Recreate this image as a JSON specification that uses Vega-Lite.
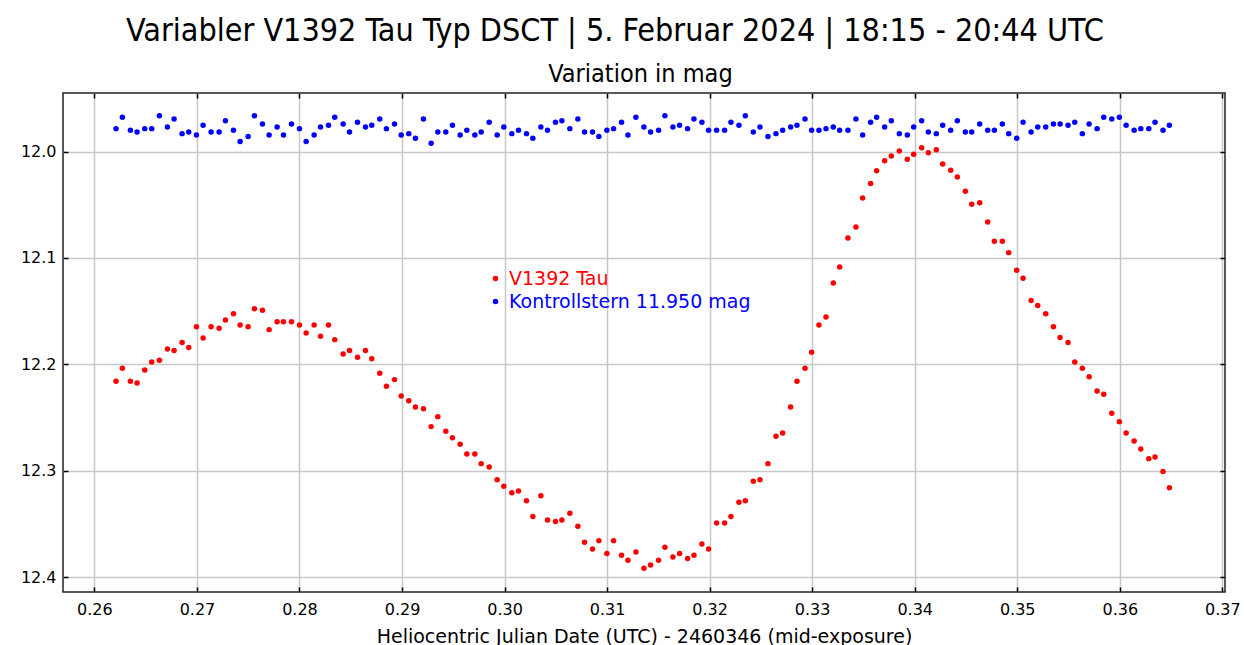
{
"$schema": "https://vega.github.io/schema/vega-lite/v6.json",
"width": 1162, "height": 499,
"autosize": {"type": "none"},
"padding": {"left": 63, "top": 93, "right": 19, "bottom": 53},
"background": "white",
"title": {"text": "Variabler V1392 Tau Typ DSCT | 5. Februar 2024 | 18:15 - 20:44 UTC", "font": "DejaVu Sans Condensed, sans-serif", "fontSize": 32, "fontWeight": "normal", "color": "#000000", "anchor": "middle", "dx": -29, "offset": 13},
"data": {"values": [
{"t":0.26211,"a":12.2160,"b":11.9784},{"t":0.26273,"a":12.2038,"b":11.9677},{"t":0.26351,"a":12.2160,"b":11.9800},{"t":0.26416,"a":12.2176,"b":11.9815},{"t":0.26491,"a":12.2053,"b":11.9784},
{"t":0.26559,"a":12.1978,"b":11.9784},{"t":0.26634,"a":12.1962,"b":11.9662},{"t":0.26712,"a":12.1856,"b":11.9768},{"t":0.26777,"a":12.1871,"b":11.9693},{"t":0.26855,"a":12.1796,"b":11.9831},
{"t":0.26920,"a":12.1843,"b":11.9815},{"t":0.26995,"a":12.1646,"b":11.9844},{"t":0.27060,"a":12.1752,"b":11.9753},{"t":0.27138,"a":12.1646,"b":11.9815},{"t":0.27216,"a":12.1661,"b":11.9815},
{"t":0.27278,"a":12.1583,"b":11.9709},{"t":0.27356,"a":12.1524,"b":11.9800},{"t":0.27421,"a":12.1630,"b":11.9906},{"t":0.27499,"a":12.1646,"b":11.9859},{"t":0.27561,"a":12.1477,"b":11.9662},
{"t":0.27639,"a":12.1492,"b":11.9740},{"t":0.27704,"a":12.1674,"b":11.9844},{"t":0.27782,"a":12.1599,"b":11.9768},{"t":0.27844,"a":12.1599,"b":11.9844},{"t":0.27922,"a":12.1599,"b":11.9740},
{"t":0.28000,"a":12.1630,"b":11.9784},{"t":0.28065,"a":12.1705,"b":11.9906},{"t":0.28143,"a":12.1630,"b":11.9844},{"t":0.28205,"a":12.1737,"b":11.9768},{"t":0.28283,"a":12.1630,"b":11.9753},
{"t":0.28344,"a":12.1768,"b":11.9677},{"t":0.28426,"a":12.1903,"b":11.9740},{"t":0.28488,"a":12.1871,"b":11.9815},{"t":0.28566,"a":12.1934,"b":11.9725},{"t":0.28644,"a":12.1871,"b":11.9768},
{"t":0.28705,"a":12.1947,"b":11.9753},{"t":0.28783,"a":12.2085,"b":11.9693},{"t":0.28848,"a":12.2207,"b":11.9784},{"t":0.28927,"a":12.2144,"b":11.9740},{"t":0.28992,"a":12.2298,"b":11.9844},
{"t":0.29066,"a":12.2342,"b":11.9831},{"t":0.29131,"a":12.2401,"b":11.9875},{"t":0.29209,"a":12.2417,"b":11.9693},{"t":0.29284,"a":12.2586,"b":11.9922},{"t":0.29349,"a":12.2492,"b":11.9815},
{"t":0.29427,"a":12.2630,"b":11.9815},{"t":0.29492,"a":12.2690,"b":11.9753},{"t":0.29567,"a":12.2752,"b":11.9844},{"t":0.29632,"a":12.2843,"b":11.9800},{"t":0.29710,"a":12.2843,"b":11.9844},
{"t":0.29772,"a":12.2934,"b":11.9815},{"t":0.29850,"a":12.2965,"b":11.9725},{"t":0.29928,"a":12.3085,"b":11.9844},{"t":0.29993,"a":12.3147,"b":11.9768},{"t":0.30071,"a":12.3207,"b":11.9831},
{"t":0.30136,"a":12.3191,"b":11.9800},{"t":0.30214,"a":12.3282,"b":11.9831},{"t":0.30276,"a":12.3432,"b":11.9875},{"t":0.30354,"a":12.3235,"b":11.9768},{"t":0.30419,"a":12.3464,"b":11.9800},
{"t":0.30497,"a":12.3479,"b":11.9725},{"t":0.30559,"a":12.3464,"b":11.9709},{"t":0.30637,"a":12.3401,"b":11.9784},{"t":0.30715,"a":12.3523,"b":11.9693},{"t":0.30780,"a":12.3674,"b":11.9815},
{"t":0.30858,"a":12.3736,"b":11.9815},{"t":0.30920,"a":12.3658,"b":11.9859},{"t":0.30998,"a":12.3780,"b":11.9800},{"t":0.31063,"a":12.3658,"b":11.9784},{"t":0.31141,"a":12.3796,"b":11.9725},
{"t":0.31203,"a":12.3843,"b":11.9844},{"t":0.31281,"a":12.3765,"b":11.9677},{"t":0.31359,"a":12.3918,"b":11.9768},{"t":0.31424,"a":12.3887,"b":11.9815},{"t":0.31502,"a":12.3843,"b":11.9800},
{"t":0.31564,"a":12.3721,"b":11.9662},{"t":0.31642,"a":12.3812,"b":11.9768},{"t":0.31707,"a":12.3780,"b":11.9753},{"t":0.31785,"a":12.3827,"b":11.9784},{"t":0.31847,"a":12.3796,"b":11.9693},
{"t":0.31925,"a":12.3689,"b":11.9725},{"t":0.31990,"a":12.3736,"b":11.9800},{"t":0.32068,"a":12.3492,"b":11.9800},{"t":0.32146,"a":12.3492,"b":11.9800},{"t":0.32208,"a":12.3432,"b":11.9725},
{"t":0.32286,"a":12.3298,"b":11.9753},{"t":0.32348,"a":12.3282,"b":11.9662},{"t":0.32426,"a":12.3100,"b":11.9815},{"t":0.32491,"a":12.3085,"b":11.9768},{"t":0.32569,"a":12.2934,"b":11.9859},
{"t":0.32647,"a":12.2677,"b":11.9831},{"t":0.32712,"a":12.2646,"b":11.9800},{"t":0.32790,"a":12.2401,"b":11.9768},{"t":0.32852,"a":12.2160,"b":11.9753},{"t":0.32930,"a":12.2038,"b":11.9693},
{"t":0.32995,"a":12.1887,"b":11.9800},{"t":0.33066,"a":12.1630,"b":11.9800},{"t":0.33135,"a":12.1555,"b":11.9784},{"t":0.33206,"a":12.1235,"b":11.9768},{"t":0.33268,"a":12.1085,"b":11.9800},
{"t":0.33349,"a":12.0812,"b":11.9800},{"t":0.33427,"a":12.0709,"b":11.9693},{"t":0.33492,"a":12.0436,"b":11.9844},{"t":0.33570,"a":12.0301,"b":11.9725},{"t":0.33629,"a":12.0179,"b":11.9677},
{"t":0.33707,"a":12.0085,"b":11.9768},{"t":0.33772,"a":12.0041,"b":11.9709},{"t":0.33850,"a":11.9994,"b":11.9831},{"t":0.33928,"a":12.0072,"b":11.9844},{"t":0.33990,"a":12.0025,"b":11.9768},
{"t":0.34068,"a":11.9963,"b":11.9709},{"t":0.34133,"a":12.0010,"b":11.9815},{"t":0.34211,"a":11.9982,"b":11.9831},{"t":0.34273,"a":12.0116,"b":11.9753},{"t":0.34351,"a":12.0176,"b":11.9800},
{"t":0.34416,"a":12.0239,"b":11.9709},{"t":0.34494,"a":12.0373,"b":11.9815},{"t":0.34556,"a":12.0496,"b":11.9815},{"t":0.34634,"a":12.0480,"b":11.9740},{"t":0.34712,"a":12.0662,"b":11.9800},
{"t":0.34777,"a":12.0843,"b":11.9800},{"t":0.34855,"a":12.0843,"b":11.9740},{"t":0.34917,"a":12.0950,"b":11.9831},{"t":0.34995,"a":12.1116,"b":11.9875},{"t":0.35057,"a":12.1191,"b":11.9725},
{"t":0.35135,"a":12.1401,"b":11.9815},{"t":0.35200,"a":12.1448,"b":11.9768},{"t":0.35278,"a":12.1524,"b":11.9768},{"t":0.35353,"a":12.1646,"b":11.9740},{"t":0.35418,"a":12.1749,"b":11.9740},
{"t":0.35496,"a":12.1796,"b":11.9753},{"t":0.35561,"a":12.1978,"b":11.9725},{"t":0.35635,"a":12.2038,"b":11.9831},{"t":0.35701,"a":12.2116,"b":11.9740},{"t":0.35779,"a":12.2251,"b":11.9784},
{"t":0.35844,"a":12.2282,"b":11.9677},{"t":0.35922,"a":12.2461,"b":11.9693},{"t":0.35996,"a":12.2539,"b":11.9677},{"t":0.36062,"a":12.2646,"b":11.9753},{"t":0.36140,"a":12.2721,"b":11.9800},
{"t":0.36205,"a":12.2796,"b":11.9784},{"t":0.36283,"a":12.2887,"b":11.9784},{"t":0.36344,"a":12.2871,"b":11.9725},{"t":0.36422,"a":12.3009,"b":11.9800},{"t":0.36484,"a":12.3160,"b":11.9753}
]},
"transform": [{"fold": ["a", "b"], "as": ["s", "m"]}],
"layer": [
{
"mark": {"type": "point", "filled": true, "shape": "circle", "size": 30, "opacity": 1},
"encoding": {
  "x": {"field": "t", "type": "quantitative",
    "scale": {"domain": [0.256937, 0.370263], "nice": false, "zero": false},
    "axis": {"values": [0.26,0.27,0.28,0.29,0.30,0.31,0.32,0.33,0.34,0.35,0.36,0.37], "format": ".2f",
      "title": "Heliocentric Julian Date (UTC) - 2460346 (mid-exposure)",
      "titleFont": "DejaVu Sans", "titleFontSize": 19, "titleFontWeight": "normal", "titleColor": "#000000", "titlePadding": 10,
      "labelFont": "DejaVu Sans", "labelFontSize": 16, "labelColor": "#000000", "labelPadding": 14, "labelFlush": false,
      "domain": false, "ticks": true, "tickSize": -5, "tickColor": "#000000", "tickWidth": 1.5,
      "grid": true, "gridColor": "#c8c8c8", "gridWidth": 1.5}},
  "y": {"field": "m", "type": "quantitative",
    "scale": {"domain": [11.9449, 12.4141], "reverse": true, "nice": false, "zero": false},
    "axis": {"values": [12.0,12.1,12.2,12.3,12.4], "format": ".1f",
      "title": "Variation in mag", "titleAngle": 0, "titleX": 577, "titleY": -20, "titleAlign": "center", "titleBaseline": "middle",
      "titleFont": "DejaVu Sans Condensed, sans-serif", "titleFontSize": 25, "titleFontWeight": "normal", "titleColor": "#000000",
      "labelFont": "DejaVu Sans", "labelFontSize": 16, "labelColor": "#000000", "labelPadding": 12, "labelFlush": false,
      "domain": false, "ticks": true, "tickSize": -5, "tickColor": "#000000", "tickWidth": 1.5,
      "grid": true, "gridColor": "#c8c8c8", "gridWidth": 1.5}},
  "color": {"field": "s", "type": "nominal",
    "scale": {"domain": ["a", "b"], "range": ["#ff0000", "#0000ff"]},
    "legend": {"title": null, "orient": "none", "legendX": 423, "legendY": 176, "padding": 0,
      "labelExpr": "datum.value == 'a' ? 'V1392 Tau' : 'Kontrollstern 11.950 mag'",
      "labelColor": {"expr": "datum.value == 'a' ? '#ff0000' : '#0000ff'"},
      "labelFont": "DejaVu Sans", "labelFontSize": 19, "labelOffset": 4, "rowPadding": 3, "labelLimit": 0,
      "symbolType": "circle", "symbolSize": 30, "symbolStrokeWidth": 0}}
}
},
{
"mark": {"type": "point", "opacity": 0},
"encoding": {
  "x": {"field": "t", "type": "quantitative",
    "axis": {"orient": "top", "values": [0.26,0.27,0.28,0.29,0.30,0.31,0.32,0.33,0.34,0.35,0.36,0.37], "labels": false, "title": null, "grid": false,
      "domain": false, "ticks": true, "tickSize": -5, "tickColor": "#000000", "tickWidth": 1.5}},
  "y": {"field": "m", "type": "quantitative",
    "axis": {"orient": "right", "values": [12.0,12.1,12.2,12.3,12.4], "labels": false, "title": null, "grid": false,
      "domain": false, "ticks": true, "tickSize": -5, "tickColor": "#000000", "tickWidth": 1.5}}
}
}
],
"resolve": {"axis": {"x": "independent", "y": "independent"}},
"config": {"view": {"stroke": "#222222", "strokeWidth": 1.5}}
}
